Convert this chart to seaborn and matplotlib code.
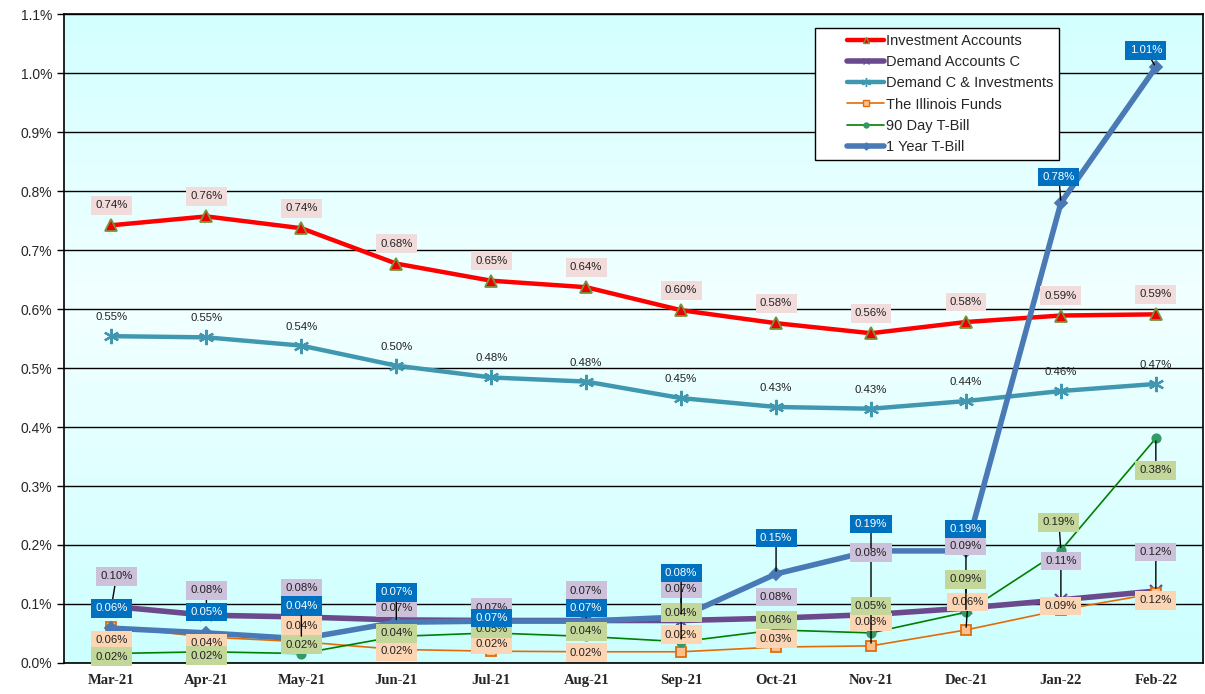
"""
Yield comparison chart: investment accounts vs. T-bills, Mar-21 to Feb-22.
"""

import numpy as np
import matplotlib.pyplot as plt
import seaborn as sns
from matplotlib.lines import Line2D
from matplotlib.legend_handler import HandlerLine2D

months = ['Mar-21', 'Apr-21', 'May-21', 'Jun-21', 'Jul-21', 'Aug-21',
          'Sep-21', 'Oct-21', 'Nov-21', 'Dec-21', 'Jan-22', 'Feb-22']

investment_accounts = [0.742, 0.757, 0.737, 0.677, 0.648, 0.637, 0.598, 0.576, 0.559, 0.578, 0.589, 0.591]
demand_accounts_c = [0.096, 0.081, 0.078, 0.073, 0.072, 0.072, 0.072, 0.076, 0.082, 0.093, 0.107, 0.122]
demand_c_investments = [0.554, 0.552, 0.538, 0.504, 0.484, 0.477, 0.449, 0.434, 0.431, 0.444, 0.461, 0.473]
illinois_funds = [0.061, 0.044, 0.036, 0.023, 0.020, 0.019, 0.019, 0.027, 0.029, 0.056, 0.090, 0.118]
tbill_90 = [0.016, 0.019, 0.016, 0.045, 0.051, 0.045, 0.036, 0.056, 0.051, 0.086, 0.191, 0.381]
tbill_1y = [0.059, 0.051, 0.041, 0.069, 0.071, 0.071, 0.078, 0.151, 0.190, 0.190, 0.780, 1.010]

yticks = [0.0, 0.1, 0.2, 0.3, 0.4, 0.5, 0.6, 0.7, 0.8, 0.9, 1.0, 1.1]

# label offsets (pixels, dx, dy) for each point
off_inv = [(0, 20)] * 12
off_dci = [(0, 19)] * 12
off_dac = [(5, 30), (0, 25), (0, 29), (0, 12), (0, 13), (0, 30), (0, 32), (0, 21),
           (0, 62), (0, 62), (0, 39), (0, 39)]
off_ill = [(0, -13), (0, -6), (0, 16), (0, -2), (0, 7), (0, -1), (0, 17), (0, 8),
           (0, 24), (2, 28), (0, 4), (0, -7)]
off_90 = [(0, -3), (0, -4), (0, 9), (0, 3), (0, 4), (0, 5), (0, 29), (0, 10),
          (0, 27), (0, 33), (-2, 28), (0, -32)]
off_1y = [(0, 20), (0, 21), (0, 33), (0, 30), (0, 3), (0, 13), (0, 44), (0, 36),
          (0, 27), (0, 22), (-2, 26), (-10, 17)]

series = [
    # name, values, line color, lw, marker, msize, mface, medge, box color, text color, offsets
    ('Investment Accounts', investment_accounts, '#ff0000', 3.2, '^', 8, '#ee0000', '#77933c', '#f2dcdb', '#222222', off_inv),
    ('Demand Accounts C', demand_accounts_c, '#6a4a8c', 4, 'x', 8, '#6a4a8c', '#6a4a8c', '#ccc0da', '#222222', off_dac),
    ('Demand C & Investments', demand_c_investments, '#4098b0', 3.2, (6, 2, 0), 11, '#4098b0', '#4098b0', None, '#222222', off_dci),
    ('The Illinois Funds', illinois_funds, '#e36c09', 1.2, 's', 7, '#fac090', '#e36c09', '#fcd5b4', '#222222', off_ill),
    ('90 Day T-Bill', tbill_90, '#008000', 1.2, 'o', 6, '#339966', '#339966', '#c4d79b', '#222222', off_90),
    ('1 Year T-Bill', tbill_1y, '#4a7ab5', 4, 'D', 6, '#4a7ab5', '#4a7ab5', '#0070c0', 'white', off_1y),
]


class RightHandler(HandlerLine2D):
    """Draw the legend line only in the right part of the handle box."""
    def create_artists(self, legend, orig_handle, xdescent, ydescent,
                       width, height, fontsize, trans):
        shift = 0.42 * width
        return super().create_artists(legend, orig_handle, xdescent - shift, ydescent,
                                      width - shift, height, fontsize, trans)


sns.set_style('white')
plt.rcParams['font.family'] = ['Liberation Sans', 'DejaVu Sans']

fig = plt.figure(figsize=(12.05, 6.94), dpi=100)
ax = fig.add_axes([0.0531, 0.0447, 0.9455, 0.935])

# background gradient: cyan at edges, lighter near middle
g = np.linspace(0, 1, 256)
light = 1 - np.abs(g - 0.55) / 0.55
r = 0.80 + 0.15 * light
bg = np.stack([r, np.ones_like(r), np.ones_like(r)], axis=1)[:, None, :]
ax.imshow(bg, extent=[0, 1, 0, 1], transform=ax.transAxes, aspect='auto',
          origin='lower', zorder=0)

x = np.arange(len(months))
handles = []
for i, (name, vals, color, lw, marker, ms, mface, medge, box, tcol, offs) in enumerate(series):
    sns.lineplot(x=x, y=vals, ax=ax, color=color, linewidth=lw, marker=marker,
                 markersize=ms, markerfacecolor=mface, markeredgecolor=medge,
                 markeredgewidth=1.3 if marker not in ('x', (6, 2, 0)) else 1.6,
                 zorder=3 + i, legend=False)
    handles.append(Line2D([0], [0], color=color, linewidth=lw, marker=marker,
                          markersize=ms * 0.6, markerfacecolor=mface,
                          markeredgecolor=medge, label=name))
    for j, v in enumerate(vals):
        dx, dy = offs[j]
        bbox = None
        if box is not None:
            bbox = dict(boxstyle='square,pad=0.38', fc=box, ec='none')
        arrow = None
        if abs(dy) > 22 or abs(dx) > 6:
            arrow = dict(arrowstyle='-', color='black', lw=1, shrinkA=0, shrinkB=2)
        ax.annotate(f'{v:.2f}%', xy=(x[j], v), xytext=(dx, dy),
                    textcoords='offset pixels', ha='center', va='center',
                    fontsize=8.2, color=tcol, bbox=bbox, arrowprops=arrow,
                    zorder=20 + i)

ax.set_xlim(-0.5, len(months) - 0.5)
ax.set_ylim(0, 1.1)
ax.set_yticks(yticks)
ax.set_yticklabels([f'{t:.1f}%' for t in yticks], fontsize=10)
ax.set_xticks(x)
ax.set_xticklabels(months, fontsize=10.5, family='Liberation Serif', fontweight='bold')
ax.set_xticks(np.arange(-0.5, len(months)), minor=True)
ax.tick_params(axis='x', which='major', length=0, pad=8)
ax.tick_params(axis='x', which='minor', length=5, width=1, direction='out', color='black')
ax.tick_params(axis='y', length=5, width=1, direction='out', color='black', left=True)
ax.grid(axis='y', color='black', linewidth=1, zorder=1)
ax.set_axisbelow(True)
for sp in ax.spines.values():
    sp.set_color('black')
    sp.set_linewidth(1.2)
ax.set_xlabel('')
ax.set_ylabel('')

leg = ax.legend(handles=handles, loc='upper left', bbox_to_anchor=(0.653, 0.99),
                fontsize=10.5, handlelength=4.3, handletextpad=0.15, labelspacing=0.5,
                fancybox=False, framealpha=1, borderpad=0.4,
                handler_map={Line2D: RightHandler()})
leg.get_frame().set_edgecolor('black')
leg.get_frame().set_linewidth(1)
leg.set_zorder(40)

plt.savefig('out.png', dpi=100)
